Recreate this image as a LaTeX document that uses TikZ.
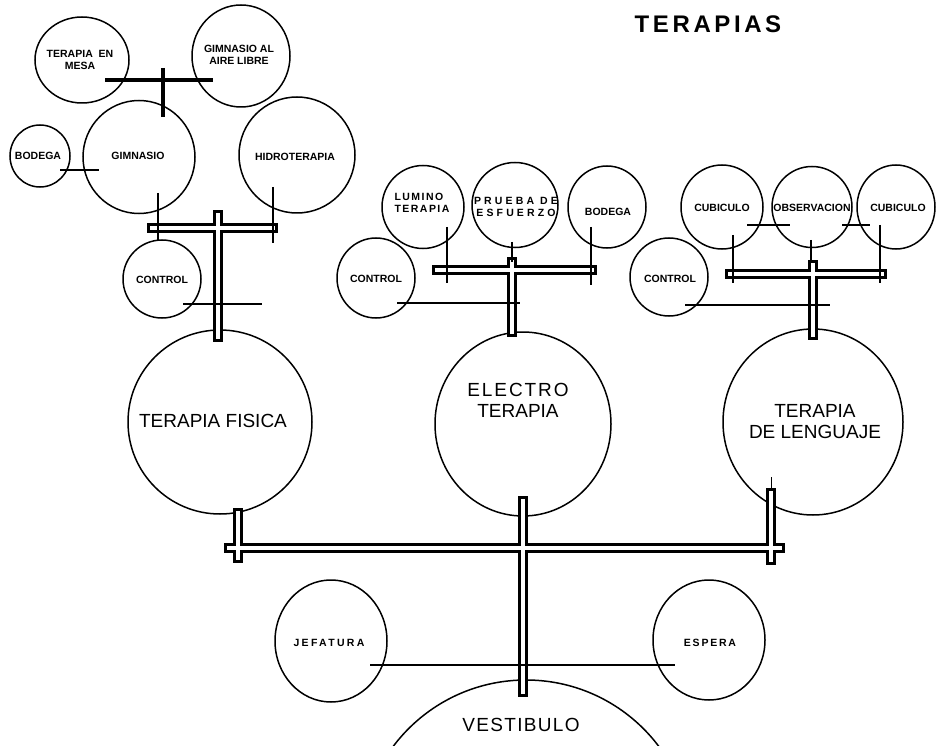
\documentclass[tikz,border=0pt]{standalone}
\usepackage{fontspec}
\setmainfont{Liberation Sans}
\usetikzlibrary{calc,shapes.geometric}

\begin{document}
\begin{tikzpicture}[x=1pt, y=-1pt,
  room/.style={ellipse, draw, line width=1.5pt, inner sep=0pt},
  small/.style={font=\fontsize{10.5}{11.5}\selectfont\bfseries, align=center},
  big/.style={font=\fontsize{19}{21}\selectfont, align=center},
  link/.style={line width=2.4pt},
  pipe/.style={line width=2.6pt, double, double distance=4pt, line cap=rect}]

\useasboundingbox (0,0) rectangle (940,746);

\node[font=\fontsize{24}{26}\selectfont\bfseries\addfontfeature{LetterSpace=15}] (titulo) at (708,24) {TERAPIAS};

% terapia fisica
\node[room, minimum width=94pt, minimum height=86pt] (mesa) at (82,60) {};
\node[small] (mesatxt) at (80,60) {TERAPIA\ \ EN\\MESA};
\node[room, minimum width=98pt, minimum height=102pt] (aire) at (241,56) {};
\node[small] (airetxt) at (239,55) {GIMNASIO AL\\AIRE LIBRE};
\node[room, minimum width=60pt, minimum height=62pt] (bodegaA) at (40,156) {};
\node[small] (bodegaAtxt) at (38,156) {BODEGA};
\node[room, minimum width=112pt, minimum height=113pt] (gim) at (139,157) {};
\node[small] (gimtxt) at (138,156) {GIMNASIO};
\node[room, minimum width=116pt, minimum height=116pt] (hidro) at (297,155) {};
\node[small] (hidrotxt) at (295,157) {HIDROTERAPIA};
\node[room, minimum width=78pt, minimum height=78pt] (controlA) at (162,279) {};
\node[small] (controlAtxt) at (162,280) {CONTROL};
\node[room, minimum width=184pt, minimum height=184pt] (fisica) at (220,422) {};
\node[big] (fisicatxt) at (213,421) {TERAPIA FISICA};

% electro terapia
\node[room, minimum width=82pt, minimum height=83pt] (lumino) at (423,207) {};
\node[small, align=left, font=\fontsize{10.5}{11.5}\selectfont\bfseries\addfontfeature{LetterSpace=14}] (luminotxt) at (422,203) {LUMINO\\TERAPIA};
\node[room, minimum width=86pt, minimum height=85pt] (prueba) at (515,205) {};
\node[small, font=\fontsize{10.5}{11.5}\selectfont\bfseries\addfontfeature{LetterSpace=30}] (pruebatxt) at (516,207) {PRUEBA DE\\ESFUERZO};
\node[room, minimum width=78pt, minimum height=82pt] (bodegaB) at (607,207) {};
\node[small] (bodegaBtxt) at (608,212) {BODEGA};
\node[room, minimum width=78pt, minimum height=80pt] (controlB) at (376,278) {};
\node[small] (controlBtxt) at (376,279) {CONTROL};
\node[room, minimum width=176pt, minimum height=184pt] (electro) at (523,424) {};
\node[big] (electrotxt) at (518,400) {{\addfontfeature{LetterSpace=10}ELECTRO}\\TERAPIA};

% terapia de lenguaje
\node[room, minimum width=82pt, minimum height=84pt] (cubA) at (722,207) {};
\node[small] (cubAtxt) at (722,208) {CUBICULO};
\node[room, minimum width=80pt, minimum height=81pt] (obs) at (812,207) {};
\node[small] (obstxt) at (812,208) {OBSERVACION};
\node[room, minimum width=78pt, minimum height=84pt] (cubB) at (896,207) {};
\node[small] (cubBtxt) at (898,208) {CUBICULO};
\node[room, minimum width=78pt, minimum height=78pt] (controlC) at (669,277) {};
\node[small] (controlCtxt) at (670,279) {CONTROL};
\node[room, minimum width=180pt, minimum height=186pt] (lenguaje) at (813,422) {};
\node[big] (lenguajetxt) at (815,422) {TERAPIA\\DE LENGUAJE};

% acceso
\node[room, minimum width=112pt, minimum height=122pt] (jefatura) at (331,641) {};
\node[small, font=\fontsize{10.5}{11.5}\selectfont\bfseries\addfontfeature{LetterSpace=22}] (jefaturatxt) at (329,643) {JEFATURA};
\node[room, minimum width=112pt, minimum height=120pt] (espera) at (709,640) {};
\node[small, font=\fontsize{10.5}{11.5}\selectfont\bfseries\addfontfeature{LetterSpace=17}] (esperatxt) at (710,643) {ESPERA};
\node[room, minimum width=332pt, minimum height=332pt] (vestibulo) at (526,846) {};
\node[big, font=\fontsize{19}{21}\selectfont\addfontfeature{LetterSpace=7}] (vestibulotxt) at (521,725) {VESTIBULO};

% pasillos
\coordinate (pa1) at (152,228); \coordinate (pa2) at (273,228);
\coordinate (pa3) at (218,215); \coordinate (pa4) at (218,337);
\draw[pipe] (pa1) -- (pa2) (pa3) -- (pa4);
\coordinate (pb1) at (437,270); \coordinate (pb2) at (592,270);
\coordinate (pb3) at (512,262); \coordinate (pb4) at (512,332);
\draw[pipe] (pb1) -- (pb2) (pb3) -- (pb4);
\coordinate (pc1) at (730,274); \coordinate (pc2) at (882,274);
\coordinate (pc3) at (813,265); \coordinate (pc4) at (813,335);
\draw[pipe] (pc1) -- (pc2) (pc3) -- (pc4);
\coordinate (pd1) at (229,548); \coordinate (pd2) at (780,548);
\coordinate (pd3) at (238,513); \coordinate (pd4) at (238,558);
\coordinate (pd5) at (523,501); \coordinate (pd6) at (523,692);
\coordinate (pd7) at (771,493); \coordinate (pd8) at (771,560);
\draw[pipe] (pd1) -- (pd2) (pd3) -- (pd4) (pd5) -- (pd6) (pd7) -- (pd8);

% conexiones
\coordinate (ga1) at (105,80); \coordinate (ga2) at (213,80);
\coordinate (ga3) at (163,68); \coordinate (ga4) at (163,117);
\draw[link, line width=3.4pt] (ga1) -- (ga2) (ga3) -- (ga4);
\coordinate (gb1) at (60,170); \coordinate (gb2) at (99,170);
\coordinate (gc1) at (158,193); \coordinate (gc2) at (158,240);
\coordinate (gd1) at (273,187); \coordinate (gd2) at (273,243);
\coordinate (ge1) at (183,304); \coordinate (ge2) at (262,304);
\draw[link] (gb1) -- (gb2) (gc1) -- (gc2) (gd1) -- (gd2) (ge1) -- (ge2);

\coordinate (ea1) at (447,227); \coordinate (ea2) at (447,283);
\coordinate (eb1) at (512,242); \coordinate (eb2) at (512,262);
\coordinate (ec1) at (591,227); \coordinate (ec2) at (591,285);
\coordinate (ed1) at (397,303); \coordinate (ed2) at (520,303);
\draw[link] (ea1) -- (ea2) (eb1) -- (eb2) (ec1) -- (ec2) (ed1) -- (ed2);

\coordinate (la1) at (747,225); \coordinate (la2) at (790,225);
\coordinate (lb1) at (842,225); \coordinate (lb2) at (870,225);
\coordinate (lc1) at (733,235); \coordinate (lc2) at (733,283);
\coordinate (ld1) at (811,240); \coordinate (ld2) at (811,262);
\coordinate (le1) at (880,225); \coordinate (le2) at (880,283);
\coordinate (lf1) at (685,305); \coordinate (lf2) at (830,305);
\draw[link] (la1) -- (la2) (lb1) -- (lb2) (lc1) -- (lc2) (ld1) -- (ld2) (le1) -- (le2) (lf1) -- (lf2);
\coordinate (lg1) at (771,477); \coordinate (lg2) at (771,489);
\draw[line width=1pt] (lg1) -- (lg2);

\coordinate (va1) at (370,665); \coordinate (va2) at (675,665);
\draw[link] (va1) -- (va2);

\end{tikzpicture}
\end{document}
